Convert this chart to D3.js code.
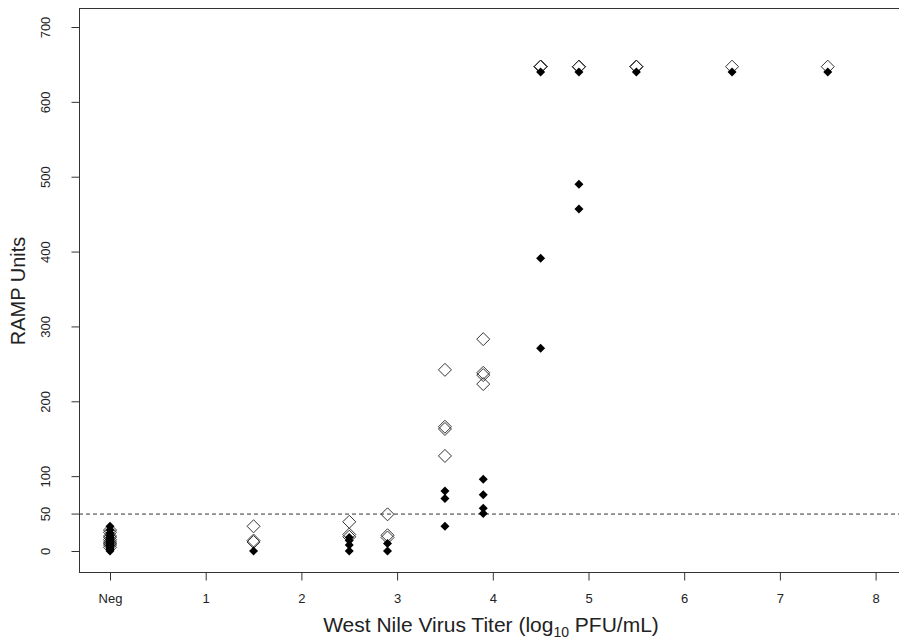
<!DOCTYPE html>
<html>
<head>
<meta charset="utf-8">
<script src="https://cdn.jsdelivr.net/npm/d3@7"></script>
<style>
  body { margin: 0; background: #fff; }
  svg text { font-family: "Liberation Sans", Arial, sans-serif; fill: #222; }
</style>
</head>
<body>
<div id="chart"></div>
<script>
// titer (log10 PFU/mL, 0 = Neg) and RAMP units, open = one assay, filled = the other
let openX = [0, 0, 0, 0, 0, 0, 0, 0, 0,
    1.5, 1.5, 1.5,
    2.5, 2.5, 2.5,
    2.9, 2.9, 2.9,
    3.5, 3.5, 3.5, 3.5,
    3.9, 3.9, 3.9, 3.9,
    4.5, 4.5, 4.5, 4.5,
    4.9, 4.9, 4.9, 4.9,
    5.5, 5.5, 5.5,
    6.5, 7.5];
let openY = [5, 8, 10, 12, 15, 18, 20, 25, 28,
    33, 14, 12,
    39, 22, 19,
    49, 21, 18,
    242, 166, 163, 127,
    283, 238, 235, 223,
    647, 647, 647, 647,
    647, 647, 647, 647,
    647, 647, 647,
    647, 647];
let filledX = [0, 0, 0, 0, 0, 0, 0, 0, 0, 0, 0, 0, 0, 0, 0, 0,
    1.5,
    2.5, 2.5, 2.5, 2.5,
    2.9, 2.9,
    3.5, 3.5, 3.5,
    3.9, 3.9, 3.9, 3.9,
    4.5, 4.5, 4.5,
    4.9, 4.9, 4.9,
    5.5, 6.5, 7.5];
let filledY = [0, 2, 4, 6, 7, 8, 10, 11, 12, 14, 16, 18, 20, 24, 28, 33,
    0,
    18, 14, 8, 0,
    10, 0,
    80, 70, 33,
    96, 75, 57, 50,
    640, 391, 271,
    640, 490, 457,
    640, 640, 640];
let xTicks = [0, 1, 2, 3, 4, 5, 6, 7, 8];
let xTickLabels = ["Neg", "1", "2", "3", "4", "5", "6", "7", "8"];
let yTicks = [0, 50, 100, 200, 300, 400, 500, 600, 700];
let cutoff = 50;

let width = 899, height = 639;
let margin = {left: 79, top: 8, right: -2, bottom: 67};

let svg = d3.select("#chart").append("svg")
    .attr("width", width)
    .attr("height", height);

let x = d3.scaleLinear().domain([0, 8]).range([110, 875.6]);
let y = d3.scaleLinear().domain([0, 700]).range([551, 27]);

// plot box
svg.append("rect")
    .attr("x", margin.left + 0.5)
    .attr("y", margin.top + 0.5)
    .attr("width", width - margin.left - margin.right)
    .attr("height", height - margin.top - margin.bottom)
    .attr("fill", "none")
    .attr("stroke", "#333")
    .attr("stroke-width", 1);

let axisBottomY = height - margin.bottom + 0.5;

// x axis ticks
let xAxis = svg.append("g")
    .attr("transform", "translate(0," + axisBottomY + ")")
    .call(d3.axisBottom(x).tickValues(xTicks).tickSize(8).tickPadding(13)
        .tickFormat((d, i) => xTickLabels[i]));
xAxis.select(".domain").remove();
xAxis.selectAll("line").attr("stroke", "#333");
xAxis.selectAll("text").attr("font-size", 13).attr("fill", "#222");

// y axis ticks, labels rotated like R's default
let yAxis = svg.append("g")
    .attr("transform", "translate(" + (margin.left + 0.5) + ",0)")
    .call(d3.axisLeft(y).tickValues(yTicks).tickSize(8).tickFormat(d3.format("d")));
yAxis.select(".domain").remove();
yAxis.selectAll("line").attr("stroke", "#333");
yAxis.selectAll("text")
    .attr("font-size", 13)
    .attr("fill", "#222")
    .attr("x", 0).attr("dy", null)
    .attr("text-anchor", "middle")
    .attr("transform", "translate(-34,0) rotate(-90)")
    .attr("dominant-baseline", "central");

// cutoff line
svg.append("line")
    .attr("x1", margin.left).attr("x2", width)
    .attr("y1", y(cutoff) + 0.5).attr("y2", y(cutoff) + 0.5)
    .attr("stroke", "#333")
    .attr("stroke-dasharray", "4,3");

// open diamonds
let openR = 6.5;
svg.append("g").selectAll("path")
    .data(openY)
    .enter().append("path")
    .attr("d", (d, i) => {
        let cx = x(openX[i]), cy = y(d);
        return `M${cx},${cy - openR}L${cx + openR},${cy}L${cx},${cy + openR}L${cx - openR},${cy}Z`;
    })
    .attr("fill", "none")
    .attr("stroke", "#333")
    .attr("stroke-width", 1);

// filled diamonds
let fillR = 4.5;
svg.append("g").selectAll("path")
    .data(filledY)
    .enter().append("path")
    .attr("d", (d, i) => {
        let cx = x(filledX[i]), cy = y(d);
        return `M${cx},${cy - fillR}L${cx + fillR},${cy}L${cx},${cy + fillR}L${cx - fillR},${cy}Z`;
    })
    .attr("fill", "#000");

// axis titles
let xTitle = svg.append("text")
    .attr("x", 491)
    .attr("y", 632)
    .attr("text-anchor", "middle")
    .attr("font-size", 21);
xTitle.append("tspan").text("West Nile Virus Titer (log");
xTitle.append("tspan").attr("font-size", 14).attr("dy", 5).text("10");
xTitle.append("tspan").attr("dy", -5).text(" PFU/mL)");

svg.append("text")
    .attr("transform", "translate(25,291) rotate(-90)")
    .attr("text-anchor", "middle")
    .attr("font-size", 20)
    .text("RAMP Units");
</script>
</body>
</html>
